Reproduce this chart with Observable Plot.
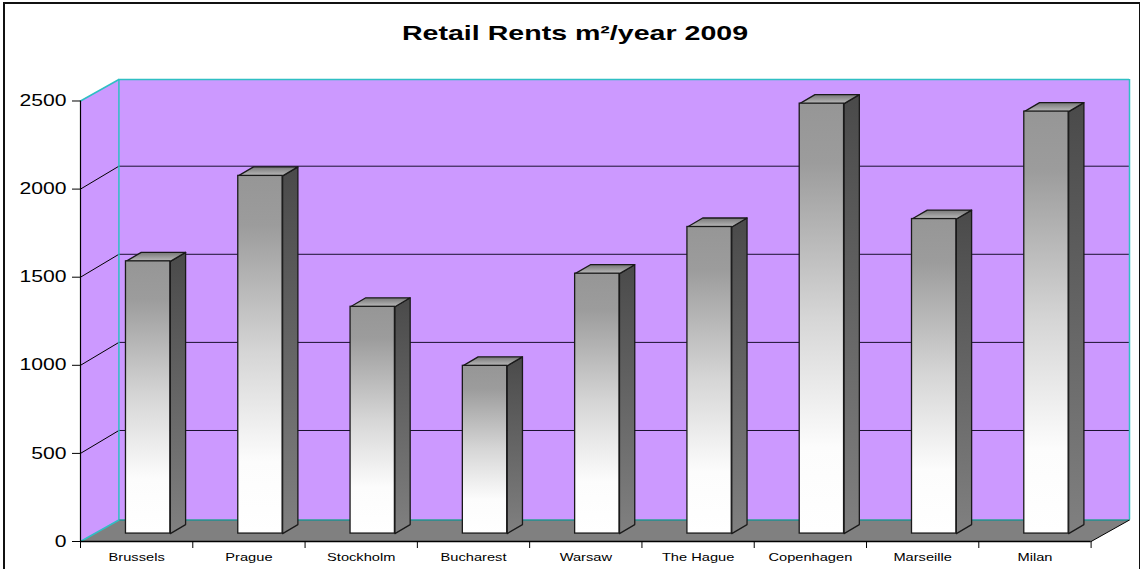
<!DOCTYPE html>
<html>
<head>
<meta charset="utf-8">
<script src="https://cdn.jsdelivr.net/npm/d3@7"></script>
<script src="https://cdn.jsdelivr.net/npm/@observablehq/plot@0.6"></script>
<style>
html,body{margin:0;padding:0;background:#fff;overflow:hidden}
#wrap{position:relative;width:1140px;height:569px;overflow:hidden}
#wrap svg{position:absolute;left:0;top:0;overflow:visible}
#frame{position:absolute;left:3px;top:2px;width:1134px;height:600px;border:2px solid #111;box-sizing:content-box;pointer-events:none}
</style>
</head>
<body>
<div id="wrap"><div id="frame"></div></div>
<script>
const chartTitle = "Retail Rents m²/year 2009";
const cities = ["Brussels","Prague","Stockholm","Bucharest","Warsaw","The Hague","Copenhagen","Marseille","Milan"];
const rents = [1545,2030,1287,952,1475,1740,2440,1785,2395];
const yTicks = [0,500,1000,1500,2000,2500];

// 3D projection, in data units of the two scales
const wallX = 0.342, wallY = 122;      // depth of the whole chart box
const gridY = 130;                     // back-wall gridlines sit a touch higher
const barStart = 0.405, barEnd = 0.80; // bar's place inside its category slot
const barLift = 45;                    // front of bar sits this far up the floor
const barDepthX = 0.136, barDepthY = 51;
const n = cities.length;

const wallLeft = [[0,0],[wallX,wallY],[wallX,2500+wallY],[0,2500],[0,0]].map(([x,y])=>({x,y}));
const floor = [[0,0],[n,0],[n+wallX,wallY],[wallX,wallY],[0,0]].map(([x,y])=>({x,y}));
const sideGrid = yTicks.slice(1,-1).flatMap(v=>[{x:0,y:v,v},{x:wallX,y:v+gridY,v}]);
const bars = cities.map((c,i)=>({c,i,v:rents[i],
  x1:i+barStart,x2:i+barEnd,y1:barLift,y2:barLift+rents[i]}));
const sideFaces = bars.flatMap(b=>[
  {x:b.x2,y:b.y1,c:b.c},{x:b.x2+barDepthX,y:b.y1+barDepthY,c:b.c},
  {x:b.x2+barDepthX,y:b.y2+barDepthY,c:b.c},{x:b.x2,y:b.y2,c:b.c},{x:b.x2,y:b.y1,c:b.c}]);
const topFaces = bars.flatMap(b=>[
  {x:b.x1,y:b.y2,c:b.c},{x:b.x2,y:b.y2,c:b.c},
  {x:b.x2+barDepthX,y:b.y2+barDepthY,c:b.c},{x:b.x1+barDepthX,y:b.y2+barDepthY,c:b.c},{x:b.x1,y:b.y2,c:b.c}]);

const teal = "#2fbfc4", wall = "#cc99ff";
const defs = () => {
  const s = d3.create("svg:defs");
  const grad = (id,stops) => {
    const g = s.append("linearGradient").attr("id",id).attr("x1",0).attr("x2",0).attr("y1",0).attr("y2",1);
    stops.forEach(([o,c])=>g.append("stop").attr("offset",o).attr("stop-color",c));
  };
  grad("front",[[0,"#969696"],[0.14,"#9c9c9c"],[0.5,"#d6d6d6"],[0.8,"#fcfcfc"],[1,"#ffffff"]]);
  grad("side",[[0,"#4a4a4a"],[1,"#808080"]]);
  grad("top",[[0,"#777777"],[1,"#bcbcbc"]]);
  return s.node();
};

const chart = Plot.plot({
  width:1140, height:569,
  marginLeft:80, marginRight:11, marginTop:79, marginBottom:28,
  style:{background:"transparent",fontFamily:"'Liberation Sans',Arial,sans-serif",color:"#000"},
  x:{domain:[0,n+wallX]},
  y:{domain:[0,2500+wallY]},
  marks:[
    defs,
    Plot.rect([0],{x1:wallX,x2:n+wallX,y1:wallY,y2:2500+wallY,fill:wall}),
    Plot.line(wallLeft,{x:"x",y:"y",fill:wall,stroke:"none"}),
    Plot.ruleY(yTicks.slice(1,-1),{x1:wallX,x2:n+wallX,y:v=>v+gridY,stroke:"#1a1030",strokeWidth:1}),
    Plot.line(sideGrid,{x:"x",y:"y",z:"v",stroke:"#000",strokeWidth:1}),
    Plot.line(floor,{x:"x",y:"y",fill:"#808080",stroke:"none"}),
    // teal edges of the box
    Plot.ruleX([wallX],{y1:wallY,y2:2500+wallY,stroke:teal,strokeWidth:1.5}),
    Plot.ruleX([n+wallX],{y1:wallY,y2:2500+wallY,stroke:teal,strokeWidth:1.5}),
    Plot.ruleY([2500+wallY],{x1:wallX,x2:n+wallX,stroke:teal,strokeWidth:1.5}),
    Plot.ruleY([wallY],{x1:wallX,x2:n+wallX,stroke:"#1f8f92",strokeWidth:1.5}),
    Plot.line([{x:0,y:2500},{x:wallX,y:2500+wallY}],{x:"x",y:"y",stroke:teal,strokeWidth:1.5}),
    Plot.line([{x:0,y:0},{x:wallX,y:wallY}],{x:"x",y:"y",stroke:teal,strokeWidth:1.5}),
    // bars
    Plot.line(sideFaces,{x:"x",y:"y",z:"c",fill:"url(#side)",stroke:"#1a1a1a",strokeWidth:1.3}),
    Plot.line(topFaces,{x:"x",y:"y",z:"c",fill:"url(#top)",stroke:"#1a1a1a",strokeWidth:1.3}),
    Plot.rect(bars,{x1:"x1",x2:"x2",y1:"y1",y2:"y2",fill:"url(#front)",stroke:"#1a1a1a",strokeWidth:1.3}),
    // axes
    Plot.ruleX([0],{y1:0,y2:2500,stroke:"#000",strokeWidth:1.2}),
    Plot.ruleY([0],{x1:0,x2:n,stroke:"#000",strokeWidth:1.5}),
    Plot.line([{x:n,y:0},{x:n+wallX,y:wallY}],{x:"x",y:"y",stroke:"#000",strokeWidth:1}),
    Plot.axisY({ticks:yTicks,tickSize:8,tickPadding:6,fontSize:16,stroke:"#000",label:null,tickFormat:d=>String(d),className:"yax"}),
    Plot.axisX({ticks:d3.range(n+1),tickSize:7,tickFormat:()=>"",label:null,stroke:"#000"}),
    Plot.axisX({ticks:cities.map((_,i)=>i+0.5),tickSize:0,tickPadding:12,fontSize:11,label:null,tickFormat:d=>cities[d-0.5],className:"xax"}),
    Plot.text([chartTitle],{frameAnchor:"top",dx:-30,dy:-54,fontSize:21,fontWeight:"bold",fill:"#000",className:"ttl"})
  ]
});
document.getElementById("wrap").appendChild(chart);

// the reference is a horizontally stretched raster: widen text the same way
const stretch = (sel,k) => d3.select(chart).selectAll(sel).each(function(){
  const t = d3.select(this);
  t.attr("textLength",this.getComputedTextLength()*k).attr("lengthAdjust","spacingAndGlyphs");
});
stretch(".yax text",1.32);
stretch(".xax text",1.33);
stretch(".ttl text",1.36);
</script>
</body>
</html>
